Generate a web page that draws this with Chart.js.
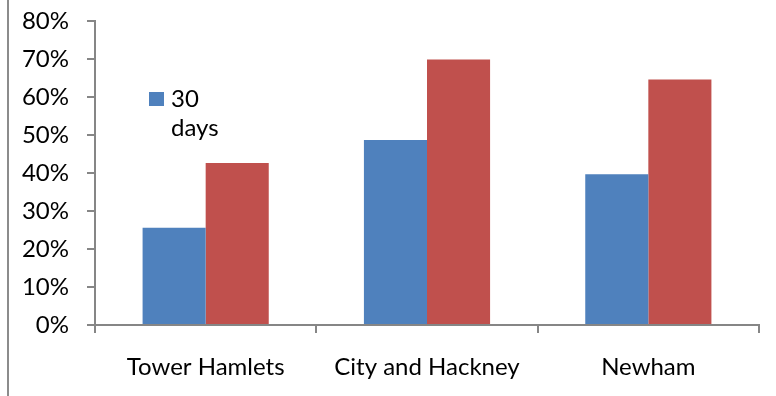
<!DOCTYPE html>
<html>
<head>
<meta charset="utf-8">
<script src="https://cdn.jsdelivr.net/npm/chart.js@4.4.1/dist/chart.umd.min.js"></script>
<style>
  html, body { margin: 0; padding: 0; background: #fff; }
  #wrap { position: relative; width: 776px; height: 396px; }
  #edge { position: absolute; left: 7px; top: 0; width: 2px; height: 396px; background: #8c8c8c; }
  canvas { display: block; }
</style>
</head>
<body>
<div id="wrap">
  <div id="edge"></div>
  <canvas id="chart" width="776" height="396"></canvas>
</div>
<script>
// values (percent)
const categories = ['Tower Hamlets', 'City and Hackney', 'Newham'];
const days30 = [25.6, 48.7, 39.7];
const otherPeriod = [42.6, 69.9, 64.6];
const seriesLabels = ['30 days', ''];
const yMax = 80;
const yStep = 10;

const axisGrey = '#868686';
const fontFamily = 'Lato, "Open Sans", sans-serif';
const fontSize = 24;

// only the first series shows in the legend, wrapped over two lines
const legendPlugin = {
    id: 'wrappedLegend',
    afterDraw(chart) {
        const ctx = chart.ctx;
        const ds = chart.data.datasets[0];
        ctx.save();
        ctx.fillStyle = ds.backgroundColor;
        ctx.fillRect(149, 92, 15, 14);
        ctx.fillStyle = '#000';
        ctx.font = fontSize + 'px ' + fontFamily;
        ctx.textBaseline = 'alphabetic';
        ctx.textAlign = 'left';
        const words = ds.label.split(' ');
        words.forEach((w, i) => ctx.fillText(w, 171, 107 + i * 29));
        ctx.restore();
    }
};

new Chart(document.getElementById('chart'), {
    type: 'bar',
    data: {
        labels: categories,
        datasets: [{
            label: seriesLabels[0],
            data: days30,
            backgroundColor: '#4F81BD'
        }, {
            label: seriesLabels[1],
            data: otherPeriod,
            backgroundColor: '#C0504D'
        }]
    },
    options: {
        responsive: false,
        animation: false,
        events: [],
        layout: { padding: { left: 0, right: 17, top: 21, bottom: 0 } },
        categoryPercentage: 0.57,
        barPercentage: 1,
        plugins: {
            legend: { display: false },
            tooltip: { enabled: false }
        },
        scales: {
            x: {
                offset: true,
                afterFit(scale) {
                    scale.height = 71;
                    scale.paddingLeft = 0;
                    scale.paddingRight = 0;
                },
                grid: {
                    offset: true,
                    drawOnChartArea: false,
                    color: axisGrey,
                    tickLength: 8,
                    lineWidth: 2
                },
                border: { color: axisGrey, width: 2 },
                ticks: {
                    color: '#000',
                    padding: 20,
                    font: { family: fontFamily, size: fontSize }
                }
            },
            y: {
                min: 0,
                max: yMax,
                afterFit(scale) {
                    scale.width = 95;
                    scale.paddingTop = 0;
                    scale.paddingBottom = 0;
                },
                grid: {
                    drawOnChartArea: false,
                    color: axisGrey,
                    tickLength: 8,
                    lineWidth: 2
                },
                border: { color: axisGrey, width: 2 },
                ticks: {
                    stepSize: yStep,
                    color: '#000',
                    padding: 18,
                    font: { family: fontFamily, size: fontSize },
                    callback: v => v + '%'
                }
            }
        }
    },
    plugins: [legendPlugin]
});
</script>
</body>
</html>
